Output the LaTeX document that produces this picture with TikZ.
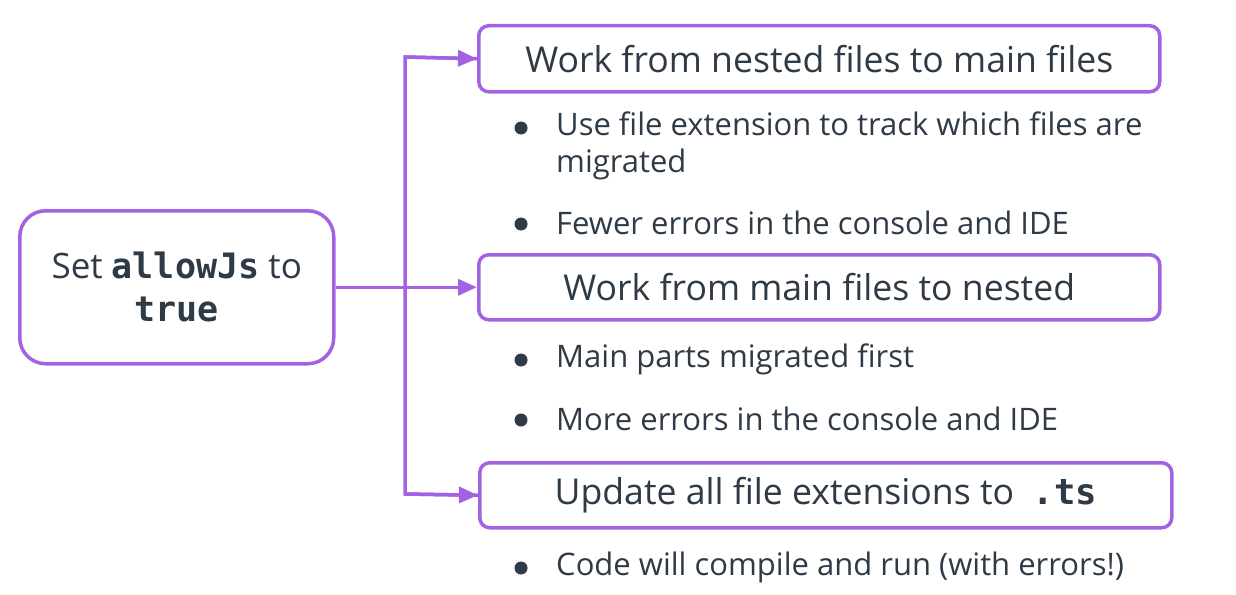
\documentclass[tikz,border=0pt]{standalone}
\usepackage{fontspec}
\setmainfont{Open Sans}
\setmonofont{DejaVu Sans Mono}
\usetikzlibrary{arrows.meta}
\definecolor{vio}{HTML}{A262E3}
\definecolor{ink}{HTML}{2E3A46}
\tikzset{
  x=1pt,y=-1pt,
  box/.style={draw=vio,line width=3.5pt,rounded corners=10pt,fill=white,text=ink,
    font=\fontsize{35.6}{40}\selectfont,inner sep=0pt,anchor=north west},
  startbox/.style={draw=vio,line width=3.5pt,rounded corners=26pt,fill=white,text=ink,
    font=\fontsize{35}{43}\selectfont,align=center,inner sep=0pt,anchor=north west},
  conn/.style={draw=vio,line width=3.5pt,-{Triangle[length=19pt,width=16pt]}},
  bul/.style={text=ink,font=\fontsize{31}{37}\selectfont,anchor=west,inner sep=0pt,align=left},
  dot/.style={circle,fill=ink,minimum size=13pt,inner sep=0pt},
}
\begin{document}
\begin{tikzpicture}
\useasboundingbox (0,0) rectangle (1236,594);
\node[startbox,minimum width=314pt,minimum height=153pt] (start) at (18,209)
  {Set \texttt{\bfseries allowJs} to\\\texttt{\bfseries true}};
\node[box,minimum width=681pt,minimum height=66pt] (b1) at (477,24) {Work from nested files to main files};
\node[box,minimum width=681pt,minimum height=65pt] (b2) at (477,253) {Work from main files to nested};
\node[box,minimum width=692pt,minimum height=65pt] (b3) at (478,461) {Update all file extensions to \ \texttt{\bfseries .ts}};

\coordinate (jt) at (405,57);
\coordinate (jb) at (405,494);
\draw[vio,line width=3.5pt,line join=miter] (b1.west) -- (jt) -- (jb) -- (b3.west);
\draw[conn] (start.east) -- (b2.west);
\draw[conn] (jt) -- (b1.west);
\draw[conn] (jb) -- (b3.west);

\node[dot] (d1) at (521,128) {};
\node[bul] (t1) at (556,146) {Use file extension to track which files are\\migrated};
\node[dot] (d2) at (521,224) {};
\node[bul] (t2) at (556,223) {Fewer errors in the console and IDE};
\node[dot] (d3) at (521,360) {};
\node[bul] (t3) at (556,359) {Main parts migrated first};
\node[dot] (d4) at (521,420) {};
\node[bul] (t4) at (556,419) {More errors in the console and IDE};
\node[dot] (d5) at (521,568) {};
\node[bul] (t5) at (556,567) {Code will compile and run (with errors!)};
\end{tikzpicture}
\end{document}
